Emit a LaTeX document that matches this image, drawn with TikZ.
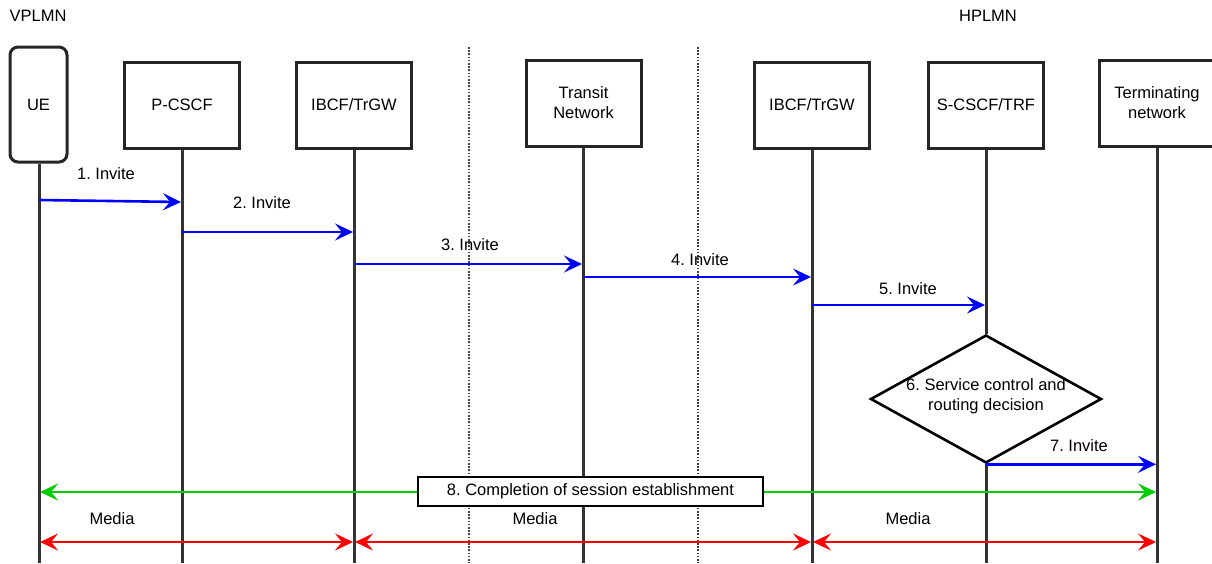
\documentclass[tikz,border=0pt]{standalone}
\usepackage{fontspec}
\setmainfont{Liberation Sans}
\usetikzlibrary{arrows.meta,shapes.geometric}
\frenchspacing
\begin{document}
\begin{tikzpicture}[x=1pt,y=-1pt, font=\fontsize{16.5}{20}\selectfont,
 ent/.style={draw=black!85, line width=3pt, fill=white, minimum width=115pt, minimum height=86pt, align=center, inner sep=0pt},
 life/.style={draw=black!80, line width=3pt},
 sep/.style={draw=black!75, line width=2.6pt, dash pattern=on 1.6pt off 1.6pt},
 tipend/.tip={Stealth[length=18pt,width=17pt,inset=7pt]},
 msg/.style={line width=2.6pt, -tipend},
 both/.style={line width=2.6pt, tipend-tipend},
 lbl/.style={inner sep=0pt, align=center}
]
\useasboundingbox (0,0) rectangle (1212,563);

% region labels
\node[lbl] (vplmn) at (38,16) {VPLMN};
\node[lbl] (hplmn) at (988,16) {HPLMN};

% separators
\coordinate (s1t) at (469,47); \coordinate (s1b) at (469,563);
\coordinate (s2t) at (698,47); \coordinate (s2b) at (698,563);
\draw[sep] (s1t) -- (s1b);
\draw[sep] (s2t) -- (s2b);

% entities
\node[ent, minimum width=57pt, minimum height=115pt, rounded corners=8pt] (ue) at (38.5,104.5) {UE};
\node[ent] (pcscf) at (182,105) {P-CSCF};
\node[ent] (ibcf1) at (354,105) {IBCF/TrGW};
\node[ent] (transit) at (583.5,103) {Transit\\Network};
\node[ent] (ibcf2) at (812,105) {IBCF/TrGW};
\node[ent] (scscf) at (986,105) {S-CSCF/TRF};
\node[ent] (term) at (1157,103) {Terminating\\network};

% decision diamond
\node[diamond, draw=black, line width=2.6pt, fill=white, minimum width=231pt, minimum height=128pt, inner sep=0pt] (dec) at (986,399) {};
\node[lbl] (dectext) at (986,396) {6. Service control and\\routing decision};

% lifeline bottoms
\coordinate (ueB) at (39,563);
\coordinate (pcB) at (182,563);
\coordinate (ib1B) at (354,563);
\coordinate (trB) at (583,563);
\coordinate (ib2B) at (812,563);
\coordinate (scB) at (986,563);
\coordinate (teB) at (1157,563);

\draw[life] (ue.south -| ueB) -- (ueB);
\draw[life] (pcscf.south) -- (pcB);
\draw[life] (ibcf1.south) -- (ib1B);
\draw[life] (transit.south -| trB) -- (trB);
\draw[life] (ibcf2.south) -- (ib2B);
\draw[life] (scscf.south) -- (dec.north);
\draw[life] (dec.south) -- (scB);
\draw[life] (term.south) -- (teB);

% message points
\coordinate (m1a) at (39,200);   \coordinate (m1b) at (181,202);
\coordinate (m2a) at (182,232);  \coordinate (m2b) at (353,232);
\coordinate (m3a) at (354,264);  \coordinate (m3b) at (582,264);
\coordinate (m4a) at (583,277);  \coordinate (m4b) at (811,277);
\coordinate (m5a) at (812,305);  \coordinate (m5b) at (985,305);
\coordinate (m7b) at (1156,463);

\draw[msg, blue] (m1a) -- (m1b);
\draw[msg, blue] (m2a) -- (m2b);
\draw[msg, blue] (m3a) -- (m3b);
\draw[msg, blue] (m4a) -- (m4b);
\draw[msg, blue] (m5a) -- (m5b);
\draw[msg, blue] (dec.south) -- (dec.south -| m7b);

\node[lbl] (l1) at (106,174) {1. Invite};
\node[lbl] (l2) at (262,203) {2. Invite};
\node[lbl] (l3) at (470,245) {3. Invite};
\node[lbl] (l4) at (700,260) {4. Invite};
\node[lbl] (l5) at (908,289) {5. Invite};
\node[lbl] (l7) at (1079,446) {7. Invite};

% completion
\colorlet{grn}{rgb,255:red,0;green,204;blue,0}
\coordinate (g1) at (40,492); \coordinate (g2) at (1156,492);
\draw[both, grn] (g1) -- (g2);
\node[draw=black, line width=1.8pt, fill=white, minimum width=345pt, minimum height=29pt, inner sep=0pt] (l8) at (590.5,491.5) {8. Completion of session establishment};

% media
\coordinate (r1) at (40,542); \coordinate (r2) at (353,542);
\coordinate (r3) at (355,542); \coordinate (r4) at (811,542);
\coordinate (r5) at (813,542); \coordinate (r6) at (1156,542);
\draw[both, red] (r1) -- (r2);
\draw[both, red] (r3) -- (r4);
\draw[both, red] (r5) -- (r6);
\node[lbl] (md1) at (112,519) {Media};
\node[lbl] (md2) at (535,519) {Media};
\node[lbl] (md3) at (908,519) {Media};
\end{tikzpicture}
\end{document}
